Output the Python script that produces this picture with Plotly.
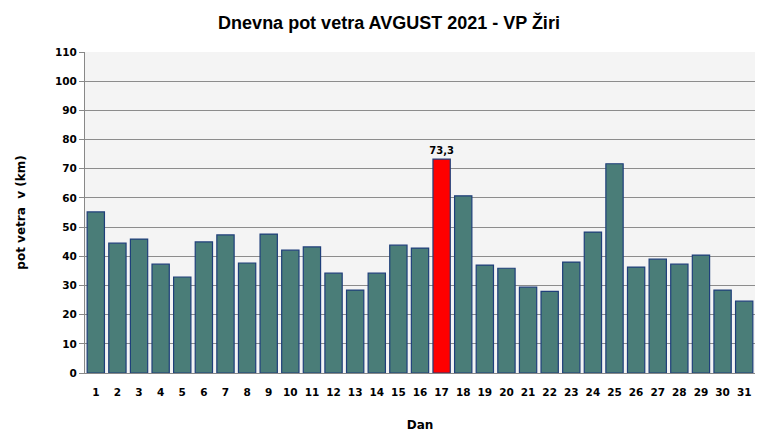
import plotly.graph_objects as go

days = [str(i) for i in range(1, 32)]
values = [55.2, 44.5, 45.9, 37.3, 32.9, 44.9, 47.3, 37.7, 47.6, 42.1,
          43.2, 34.2, 28.4, 34.2, 43.8, 42.8, 73.3, 60.7, 37.0, 35.9,
          29.4, 28.0, 38.0, 48.3, 71.7, 36.3, 39.0, 37.3, 40.4, 28.4, 24.6]
max_idx = values.index(max(values))
colors = ["#ff0000" if i == max_idx else "#4a7d78" for i in range(len(values))]
labels = [f"{v:.1f}".replace(".", ",") if i == max_idx else "" for i, v in enumerate(values)]

fig = go.Figure(go.Bar(
    x=days, y=values,
    marker=dict(color=colors, line=dict(color="#1f3f7a", width=1.2)),
    text=labels, textposition="outside", cliponaxis=False, constraintext="none",
    textfont=dict(family="DejaVu Sans", size=10, color="#000000", weight="bold"),
))

fig.update_layout(
    width=762, height=431,
    margin=dict(l=77, r=15, t=44, b=66),
    paper_bgcolor="#ffffff", plot_bgcolor="#f4f4f4",
    bargap=0.2, showlegend=False,
    title=dict(text="<b>Dnevna pot vetra AVGUST 2021 - VP Žiri</b>", x=0.5, xanchor="center",
               yref="container", y=0.965, yanchor="middle",
               font=dict(family="Liberation Sans Narrow, Liberation Sans", size=18, color="#000000")),
    font=dict(family="DejaVu Sans", color="#000000"),
)
fig.update_xaxes(
    type="category", showgrid=False, showline=True, linecolor="#888888", linewidth=1,
    ticks="", automargin=False, ticklabelstandoff=9,
    tickfont=dict(family="DejaVu Sans", size=10.5, color="#000000", weight="bold"),
    title=dict(text="<b>Dan</b>", font=dict(family="DejaVu Sans", size=12), standoff=24),
)
fig.update_yaxes(
    range=[0, 110], dtick=10, showgrid=True, gridcolor="#8c8c8c", gridwidth=1,
    showline=True, linecolor="#888888", linewidth=1, ticks="outside", ticklen=5,
    tickcolor="#888888", zeroline=False, automargin=False,
    tickfont=dict(family="DejaVu Sans", size=10.5, color="#000000", weight="bold"),
    title=dict(text="<b>pot vetra  v (km)</b>", font=dict(family="DejaVu Sans", size=12), standoff=26),
)

fig.write_html("out.html")
